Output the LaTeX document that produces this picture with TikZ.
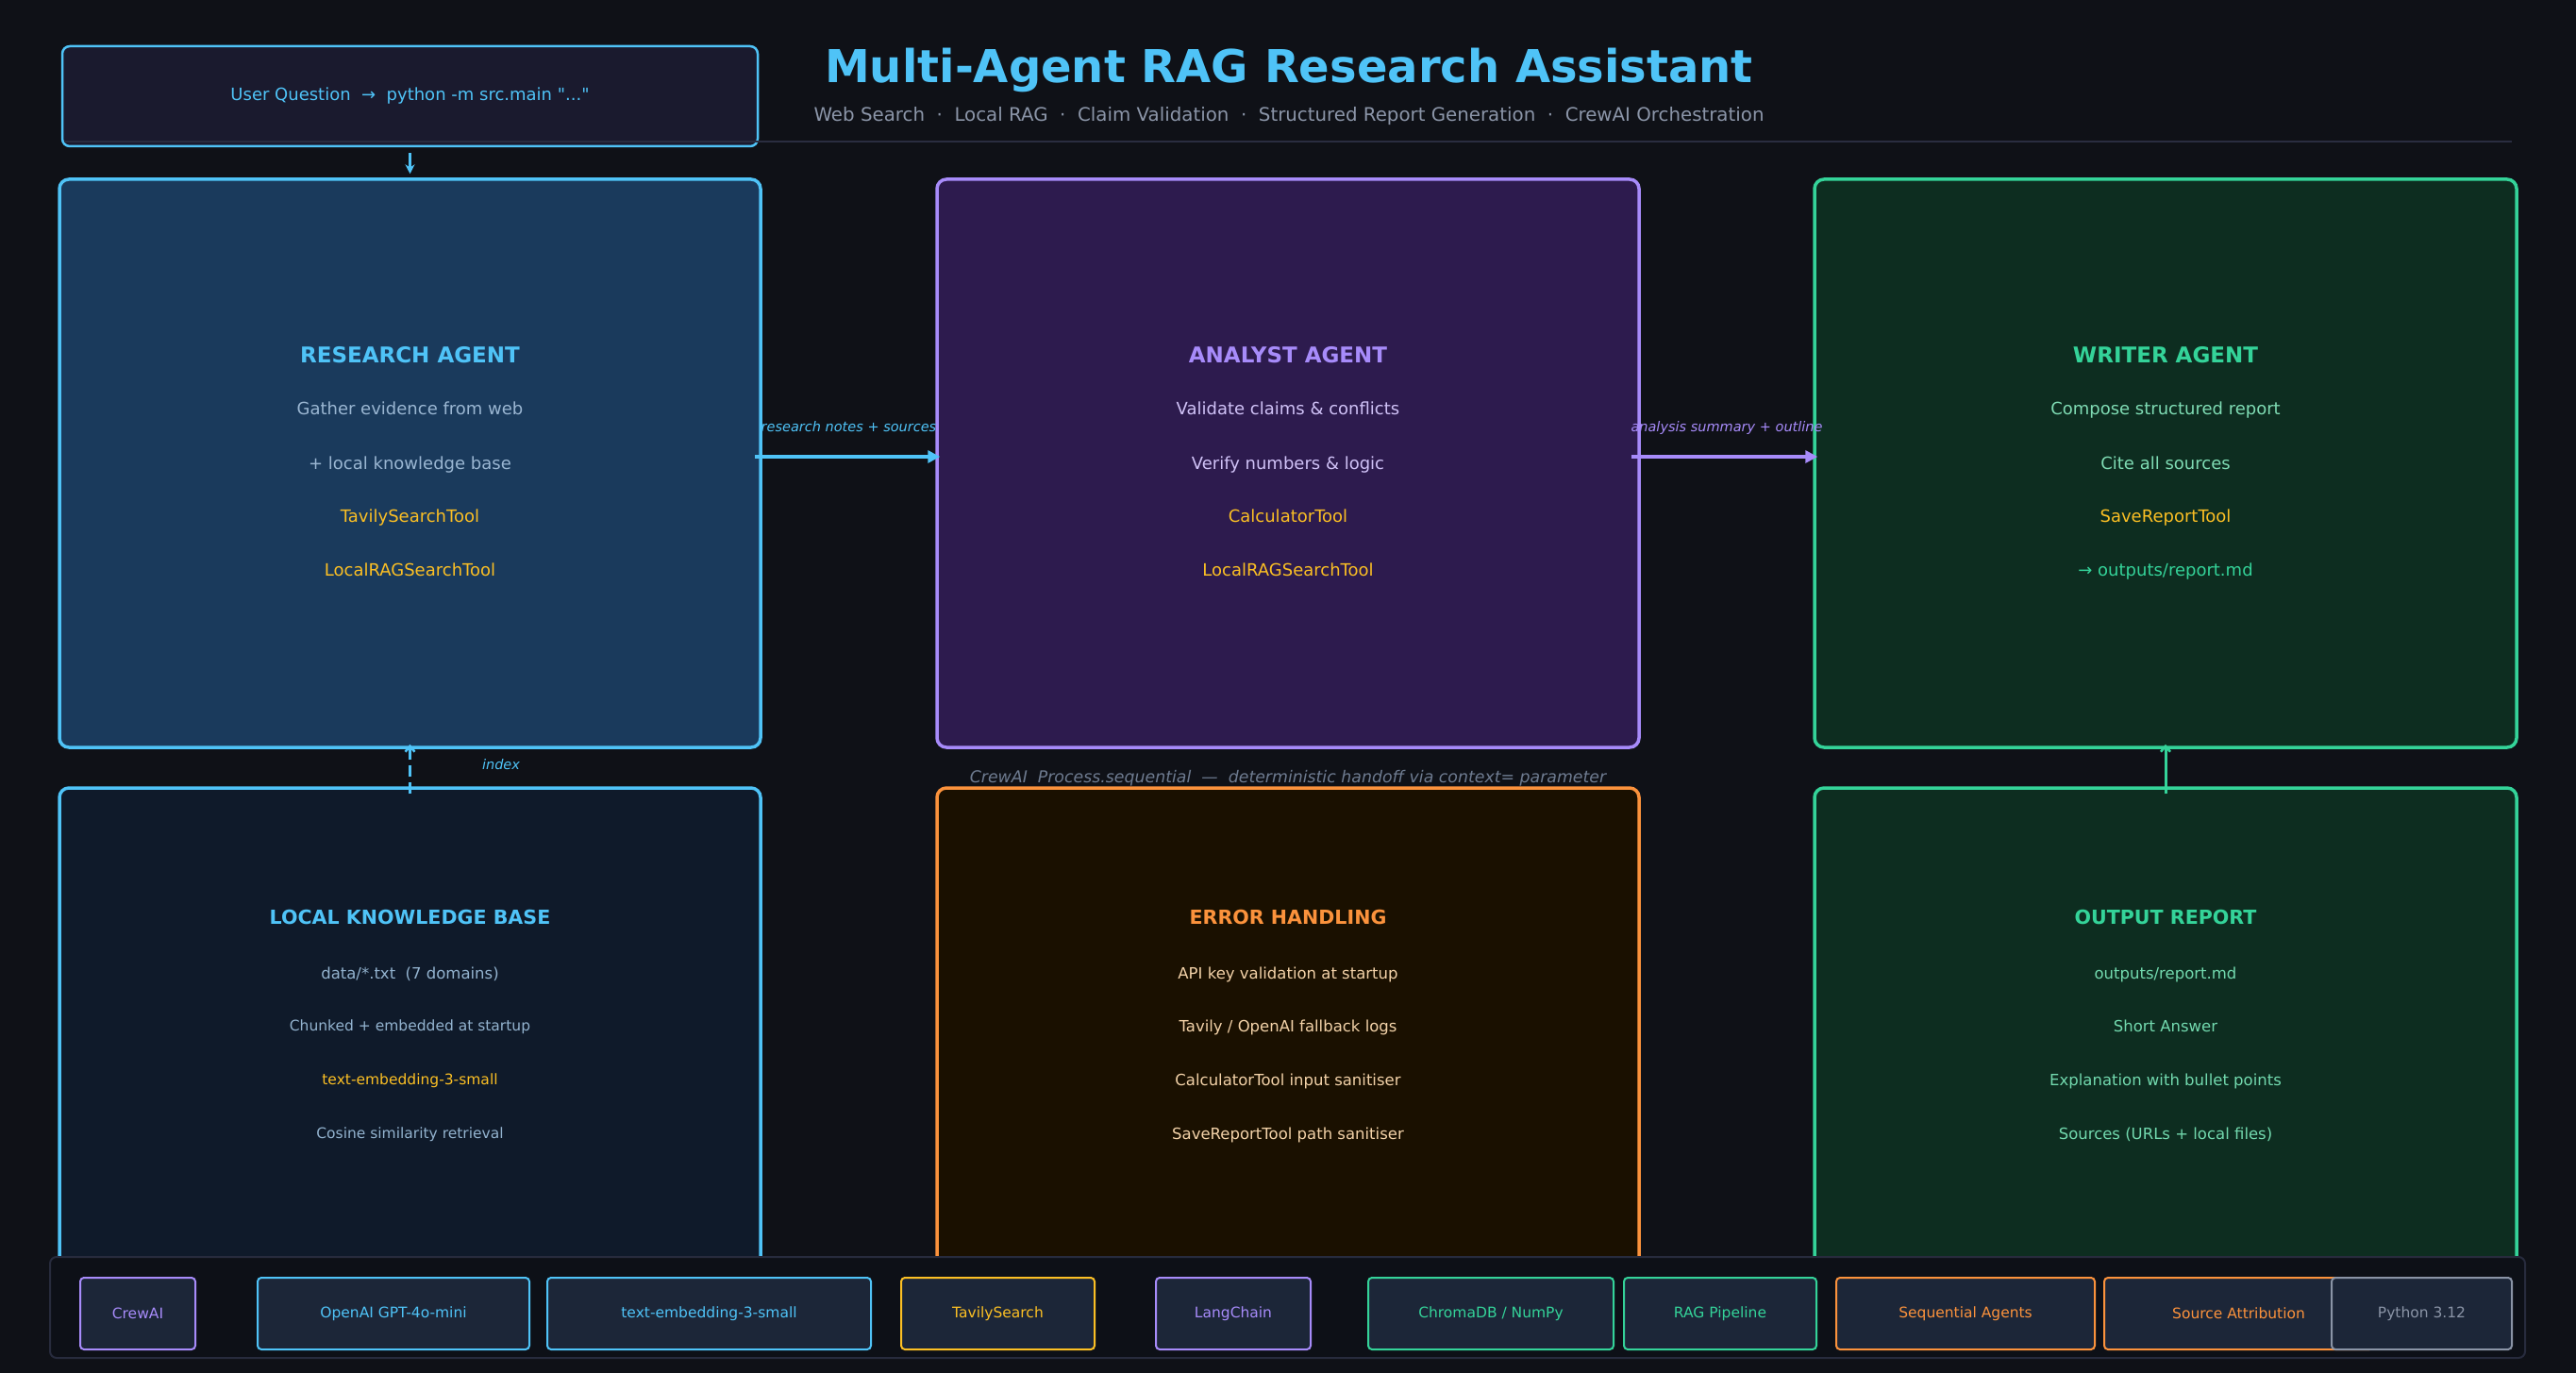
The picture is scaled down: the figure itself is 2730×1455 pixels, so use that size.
\documentclass[tikz,border=0pt]{standalone}
\usepackage{fontspec}
\setmainfont{DejaVu Sans}[Ligatures=TeXOff]
\usetikzlibrary{arrows.meta,calc}
\definecolor{bg}{HTML}{0F1117}
\definecolor{cblue}{HTML}{4FC3F7}
\definecolor{cpurple}{HTML}{A78BFA}
\definecolor{cgreen}{HTML}{34D399}
\definecolor{corange}{HTML}{FB923C}
\definecolor{cgold}{HTML}{FBBF24}
\definecolor{cgray}{HTML}{8B95A8}
\definecolor{capgray}{HTML}{6E7B90}
\definecolor{rafill}{HTML}{1A3A5C}
\definecolor{anfill}{HTML}{2D1B4E}
\definecolor{wrfill}{HTML}{0D2D20}
\definecolor{kbfill}{HTML}{0F1A2A}
\definecolor{erfill}{HTML}{1A1000}
\definecolor{ubfill}{HTML}{1A1A2E}
\definecolor{footfill}{HTML}{0D1017}
\definecolor{footline}{HTML}{272B3D}
\definecolor{chipfill}{HTML}{1C2638}
\definecolor{sepline}{HTML}{2A2D40}
\definecolor{radesc}{HTML}{9AB6D2}
\definecolor{andesc}{HTML}{D0C2F7}
\definecolor{wrdesc}{HTML}{7FDCB4}
\definecolor{kbdesc}{HTML}{93B3CF}
\definecolor{erdesc}{HTML}{F3D2A8}
\definecolor{oudesc}{HTML}{72D9AE}
\definecolor{pygray}{HTML}{8A94A6}
\tikzset{
  box/.style={draw, rounded corners=10pt, line width=3.5pt, inner sep=0pt},
  hd/.style={inner sep=0pt, text height=16.8pt, text depth=0pt, font=\fontsize{23}{28}\selectfont\bfseries},
  hdb/.style={inner sep=0pt, text height=15pt, text depth=0pt, font=\fontsize{20.6}{25}\selectfont\bfseries},
  ln/.style={inner sep=0pt, text height=13.1pt, text depth=0pt, font=\fontsize{18}{22}\selectfont},
  lnb/.style={inner sep=0pt, text height=12pt, text depth=0pt, font=\fontsize{16.5}{20}\selectfont},
  lns/.style={inner sep=0pt, text height=11.3pt, text depth=0pt, font=\fontsize{15.5}{19}\selectfont},
  lbl/.style={inner sep=0pt, text height=10.6pt, text depth=0pt, font=\fontsize{14.5}{18}\selectfont\itshape},
  chip/.style={draw, fill=chipfill, rounded corners=4pt, line width=2pt, minimum height=76pt, inner sep=0pt, font=\fontsize{15.5}{18}\selectfont},
  flow/.style={line width=4.5pt, -{Triangle[length=13pt,width=13pt]}},
  thinflow/.style={line width=3pt, -{Straight Barb[length=6pt,width=10pt,line width=2.5pt]}},
}
\begin{document}
\begin{tikzpicture}[x=1pt,y=-1pt]
\fill[bg] (0,0) rectangle (2730,1455);
\useasboundingbox (0,0) rectangle (2730,1455);

% header
\node[draw=cblue, fill=ubfill, rounded corners=8pt, line width=2.5pt, minimum width=737pt, minimum height=106pt, inner sep=0pt] (ub) at (434.5,102) {};
\node[ln, text=cblue] (ubt) at (434.5,100) {User Question \ → \ python -m src.main "..."};
\draw[sepline, line width=2.5pt] (68,150) coordinate (sepa) -- (2662,150) coordinate (sepb);
\node[inner sep=0pt, text height=35pt, text depth=0pt, font=\fontsize{48}{56}\selectfont\bfseries, text=cblue] (title) at (1366,70) {Multi-Agent RAG Research Assistant};
\node[inner sep=0pt, text height=14.4pt, text depth=0pt, font=\fontsize{19.8}{24}\selectfont, text=cgray] (sub) at (1366,121) {Web Search \ · \ Local RAG \ · \ Claim Validation \ · \ Structured Report Generation \ · \ CrewAI Orchestration};

% top row boxes
\node[box, draw=cblue, fill=rafill, minimum width=743pt, minimum height=602pt] (ra) at (434.5,491) {};
\node[box, draw=cpurple, fill=anfill, minimum width=744pt, minimum height=602pt] (an) at (1365,491) {};
\node[box, draw=cgreen, fill=wrfill, minimum width=744pt, minimum height=602pt] (wr) at (2295,491) {};

% bottom row boxes
\node[box, draw=cblue, fill=kbfill, minimum width=743pt, minimum height=515pt] (kb) at (434.5,1092.5) {};
\node[box, draw=corange, fill=erfill, minimum width=744pt, minimum height=515pt] (er) at (1365,1092.5) {};
\node[box, draw=cgreen, fill=wrfill, minimum width=744pt, minimum height=515pt] (ou) at (2295,1092.5) {};

% research agent text
\node[hd, text=cblue] (ra0) at (434.5,376) {RESEARCH AGENT};
\node[ln, text=radesc] (ra1) at (434.5,433) {Gather evidence from web};
\node[ln, text=radesc] (ra2) at (434.5,491) {+ local knowledge base};
\node[ln, text=cgold] (ra3) at (434.5,547) {TavilySearchTool};
\node[ln, text=cgold] (ra4) at (434.5,604) {LocalRAGSearchTool};

% analyst text
\node[hd, text=cpurple] (an0) at (1365,376) {ANALYST AGENT};
\node[ln, text=andesc] (an1) at (1365,433) {Validate claims \& conflicts};
\node[ln, text=andesc] (an2) at (1365,491) {Verify numbers \& logic};
\node[ln, text=cgold] (an3) at (1365,547) {CalculatorTool};
\node[ln, text=cgold] (an4) at (1365,604) {LocalRAGSearchTool};

% writer text
\node[hd, text=cgreen] (wr0) at (2295,376) {WRITER AGENT};
\node[ln, text=wrdesc] (wr1) at (2295,433) {Compose structured report};
\node[ln, text=wrdesc] (wr2) at (2295,491) {Cite all sources};
\node[ln, text=cgold] (wr3) at (2295,547) {SaveReportTool};
\node[ln, text=cgreen] (wr4) at (2295,604) {→ outputs/report.md};

% knowledge base text
\node[hdb, text=cblue] (kb0) at (434.5,972) {LOCAL KNOWLEDGE BASE};
\node[lnb, text=kbdesc] (kb1) at (434.5,1031) {data/*.txt \ (7 domains)};
\node[lns, text=kbdesc] (kb2) at (434.5,1087) {Chunked + embedded at startup};
\node[lns, text=cgold] (kb3) at (434.5,1144) {text-embedding-3-small};
\node[lns, text=kbdesc] (kb4) at (434.5,1201) {Cosine similarity retrieval};

% error handling text
\node[hdb, text=corange] (er0) at (1365,972) {ERROR HANDLING};
\node[lnb, text=erdesc] (er1) at (1365,1031) {API key validation at startup};
\node[lnb, text=erdesc] (er2) at (1365,1087) {Tavily / OpenAI fallback logs};
\node[lnb, text=erdesc] (er3) at (1365,1144) {CalculatorTool input sanitiser};
\node[lnb, text=erdesc] (er4) at (1365,1201) {SaveReportTool path sanitiser};

% output text
\node[hdb, text=cgreen] (ou0) at (2295,972) {OUTPUT REPORT};
\node[lnb, text=oudesc] (ou1) at (2295,1031) {outputs/report.md};
\node[lnb, text=oudesc] (ou2) at (2295,1087) {Short Answer};
\node[lnb, text=oudesc] (ou3) at (2295,1144) {Explanation with bullet points};
\node[lnb, text=oudesc] (ou4) at (2295,1201) {Sources (URLs + local files)};

% connectors
\draw[cblue, line width=3pt, -{Stealth[length=10pt,width=10pt]}] ([yshift=-6pt]ub.south) -- ([yshift=4pt]ra.north);
\draw[flow, cblue] ([xshift=-8pt,yshift=7pt]ra.east) -- ([xshift=5pt,yshift=7pt]an.west);
\draw[flow, cpurple] ([xshift=-10pt,yshift=7pt]an.east) -- ([xshift=5pt,yshift=7pt]wr.west);
\draw[thinflow, cblue, dash pattern=on 12pt off 6pt] ([yshift=-8pt]kb.north) -- ([yshift=5pt]ra.south);
\draw[thinflow, cgreen] ([yshift=-8pt]ou.north) -- ([yshift=5pt]wr.south);

% connector labels
\node[lbl, text=cblue] (l1) at (899.5,452) {research notes + sources};
\node[lbl, text=cpurple] (l2) at (1830,452) {analysis summary + outline};
\node[lbl, text=cblue] (l3) at (531,810) {index};
\node[inner sep=0pt, text height=12.6pt, text depth=0pt, font=\fontsize{17.35}{20}\selectfont\itshape, text=capgray] (cap) at (1365,823) {CrewAI \ Process.sequential \ — \ deterministic handoff via context= parameter};

% footer
\node[draw=footline, fill=footfill, rounded corners=7pt, line width=2pt, minimum width=2623pt, minimum height=107pt, inner sep=0pt] (foot) at (1364.5,1385.5) {};
\node[chip, draw=cpurple, text=cpurple, minimum width=122pt] (c1) at (146,1392) {CrewAI};
\node[chip, draw=cblue, text=cblue, minimum width=288pt] (c2) at (417,1392) {OpenAI GPT-4o-mini};
\node[chip, draw=cblue, text=cblue, minimum width=343pt] (c3) at (751.5,1392) {text-embedding-3-small};
\node[chip, draw=cgold, text=cgold, minimum width=205pt] (c4) at (1057.5,1392) {TavilySearch};
\node[chip, draw=cpurple, text=cpurple, minimum width=164pt] (c5) at (1307,1392) {LangChain};
\node[chip, draw=cgreen, text=cgreen, minimum width=260pt] (c6) at (1580,1392) {ChromaDB / NumPy};
\node[chip, draw=cgreen, text=cgreen, minimum width=204pt] (c7) at (1823,1392) {RAG Pipeline};
\node[chip, draw=corange, text=corange, minimum width=274pt] (c8) at (2083,1392) {Sequential Agents};
\node[chip, draw=corange, text=corange, minimum width=285pt] (c9) at (2372.5,1392) {Source Attribution};
\node[chip, draw=pygray, text=pygray, minimum width=191pt] (c10) at (2566.5,1392) {Python 3.12};
\end{tikzpicture}
\end{document}
